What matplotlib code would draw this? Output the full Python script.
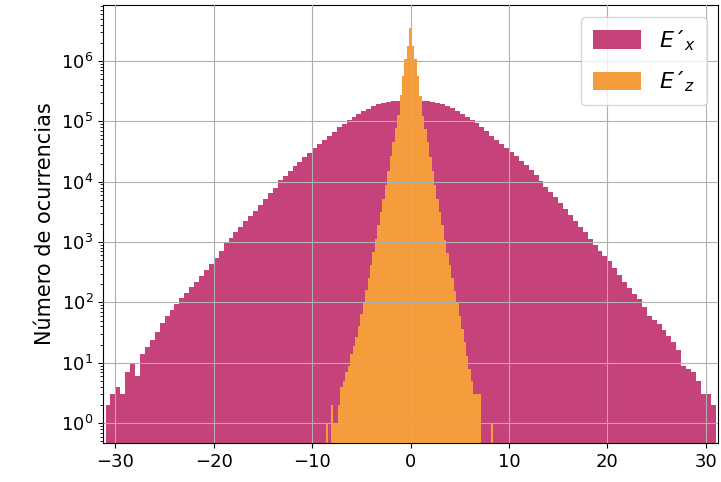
import numpy as np
import matplotlib.pyplot as plt

# conteos por bin (anchura 0.5) de E'x, de x = -31 a 31
ex_counts = [2, 3, 4, 3, 7, 10, 6, 14, 18, 24, 32, 45, 60, 76, 95, 120,
             145, 178, 219, 275, 347, 437, 550, 708, 955, 1175, 1445, 1780,
             2190, 2690, 3310, 4170, 5130, 6460, 7940, 10470, 12600, 15100,
             18200, 21400, 25700, 30200, 35500, 41700, 49000, 57500, 67600,
             79400, 91200, 104700, 117500, 131800, 147900, 162200, 177800,
             190500, 199500, 208900, 213800, 218800, 223900, 224000,
             224500, 223000, 218000, 213000, 209500, 200000, 191000, 178500,
             163000, 148500, 132500, 118000, 105000, 92000, 80000, 68500,
             58000, 49500, 42000, 36000, 31500, 26500, 22000, 18700, 15600,
             13000, 10200, 8300, 6800, 5500, 4400, 3500, 2800, 2250, 1800,
             1450, 1120, 900, 720, 590, 480, 370, 280, 215, 172, 138, 112,
             85, 60, 52, 44, 35, 28, 22, 16, 9, 8, 7, 5, 3, 3, 2]

# conteos por bin (anchura 0.25) de E'z, centros de -8.5 a 8.25
ez_counts = [1, 0, 2, 1, 1, 2, 4, 5, 7, 9, 14, 19, 27, 41, 64, 99, 158,
             255, 415, 680, 1120, 1900, 3150, 5200, 8900, 15200, 26500,
             46000, 77000, 128000, 270000, 565000, 1080000, 1790000,
             3550000,
             1760000, 1060000, 555000, 265000, 124000, 75000, 45000, 26000,
             14900, 8800, 5150, 3100, 1880, 1100, 660, 410, 250, 155, 96,
             60, 36, 22, 13, 8, 5, 3, 3, 3, 0, 0, 0, 0, 1]

ex_edges = np.arange(-31.0, 31.0 + 0.25, 0.5)
ez_edges = np.arange(-8.625, 8.375 + 0.1, 0.25)
ex_centers = (ex_edges[:-1] + ex_edges[1:]) / 2
ez_centers = (ez_edges[:-1] + ez_edges[1:]) / 2

fig, ax = plt.subplots(figsize=(7.21, 4.82), dpi=100)
fig.subplots_adjust(left=0.143, right=0.996, top=0.99, bottom=0.081)

ax.hist(ex_centers, bins=ex_edges, weights=ex_counts, log=True,
        color='#c5427a', label="$E´_x$")
ax.hist(ez_centers, bins=ez_edges, weights=ez_counts, log=True,
        color='#f59c3c', label="$E´_z$")

ax.set_xlim(-31.25, 31.25)
ax.set_ylim(0.47, 8.5e6)
ax.set_xticks([-30, -20, -10, 0, 10, 20, 30])
ax.grid(True)
ax.set_axisbelow(False)
ax.tick_params(labelsize=13)
ax.set_ylabel('Número de ocurrencias', fontsize=15)
ax.legend(loc='upper right', fontsize=16, handlelength=2.2,
          handleheight=0.9, labelspacing=0.75, borderpad=0.5,
          bbox_to_anchor=(1.0, 0.997))

plt.savefig('out.png')
